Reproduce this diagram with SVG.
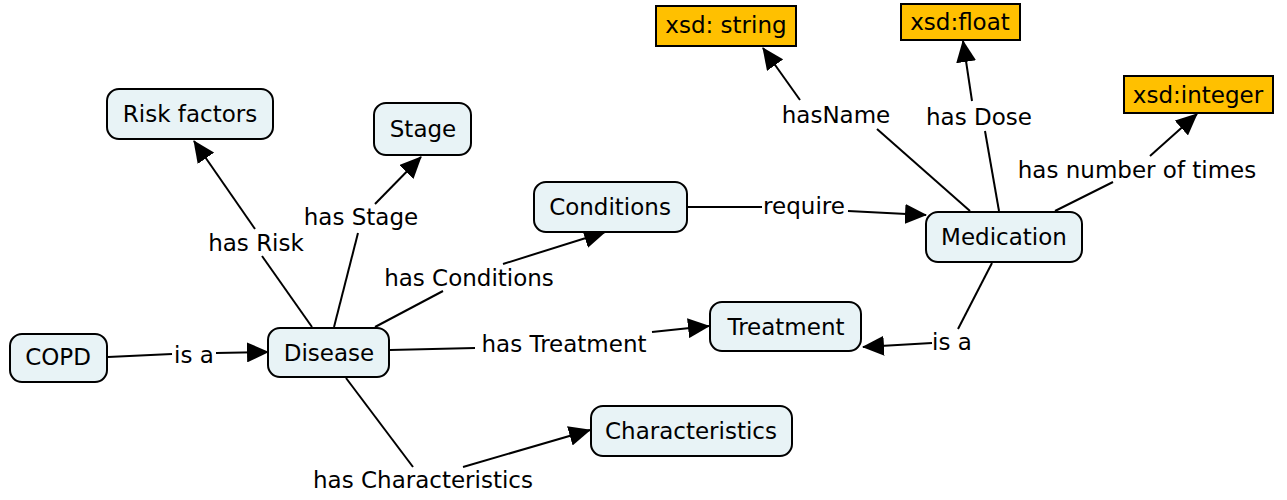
<svg xmlns="http://www.w3.org/2000/svg" width="1287" height="500" viewBox="0 0 1287 500">
<style>
.node rect{fill:#e8f3f6;stroke:#000;stroke-width:2}
.dt rect{fill:#ffc000;stroke:#000;stroke-width:2}
text{font-family:"DejaVu Sans","Liberation Sans",sans-serif;font-size:23px;fill:#000;text-anchor:middle;dominant-baseline:central}
.links line{stroke:#000;stroke-width:2}
.links line.a{marker-end:url(#arr)}
</style>
<defs>
<marker id="arr" markerUnits="userSpaceOnUse" markerWidth="22" markerHeight="20" viewBox="0 0 22 20" refX="21" refY="10" orient="auto">
<path d="M0,0 L22,10 L0,20 z" fill="#000"/>
</marker>
</defs>
<rect width="1287" height="500" fill="#fff"/>
<g class="links">
<line x1="108" y1="357" x2="172" y2="354"/><line class="a" x1="216" y1="353" x2="268" y2="352"/>
<line x1="312" y1="327" x2="262" y2="256"/><line class="a" x1="255" y1="229" x2="194" y2="141"/>
<line x1="334" y1="327" x2="358" y2="233"/><line class="a" x1="375" y1="204" x2="421" y2="157"/>
<line x1="375" y1="327" x2="443" y2="291"/><line class="a" x1="503" y1="264" x2="605" y2="232"/>
<line x1="390" y1="350" x2="475" y2="348"/><line class="a" x1="652" y1="332" x2="709" y2="326"/>
<line x1="346" y1="378" x2="413" y2="467"/><line class="a" x1="463" y1="467" x2="590" y2="430"/>
<line x1="687" y1="207" x2="762" y2="207"/><line class="a" x1="848" y1="211" x2="926" y2="215"/>
<line x1="992" y1="263" x2="958" y2="329"/><line class="a" x1="932" y1="343" x2="863" y2="347"/>
<line x1="970" y1="211" x2="877" y2="129"/><line class="a" x1="800" y1="100" x2="763" y2="48"/>
<line x1="999" y1="211" x2="985" y2="131"/><line class="a" x1="972" y1="101" x2="963" y2="41"/>
<line x1="1055" y1="211" x2="1113" y2="182"/><line class="a" x1="1150" y1="156" x2="1197" y2="114"/>
<text x="194" y="355">is a</text>
<text x="256" y="243">has Risk</text>
<text x="361" y="217">has Stage</text>
<text x="469" y="278">has Conditions</text>
<text x="564" y="344">has Treatment</text>
<text x="423" y="480">has Characteristics</text>
<text x="804" y="206">require</text>
<text x="952" y="342">is a</text>
<text x="836" y="115">hasName</text>
<text x="979" y="117">has Dose</text>
<text x="1137" y="170">has number of times</text>
</g>
<g id="risk" class="node"><rect x="107" y="89" width="166" height="50" rx="12"/><text x="190" y="114">Risk factors</text></g>
<g id="stage" class="node"><rect x="374" y="103" width="97" height="52" rx="12"/><text x="423" y="129">Stage</text></g>
<g id="conditions" class="node"><rect x="534" y="182" width="153" height="50" rx="12"/><text x="610" y="207">Conditions</text></g>
<g id="medication" class="node"><rect x="926" y="212" width="156" height="50" rx="12"/><text x="1004" y="237">Medication</text></g>
<g id="treatment" class="node"><rect x="710" y="302" width="151" height="49" rx="12"/><text x="786" y="327">Treatment</text></g>
<g id="copd" class="node"><rect x="10" y="334" width="97" height="48" rx="12"/><text x="58" y="357">COPD</text></g>
<g id="disease" class="node"><rect x="268" y="328" width="121" height="49" rx="12"/><text x="329" y="353">Disease</text></g>
<g id="characteristics" class="node"><rect x="591" y="406" width="201" height="50" rx="12"/><text x="691" y="431">Characteristics</text></g>
<g id="xsd-string" class="dt"><rect x="656" y="6" width="140" height="40"/><text x="726" y="25">xsd: string</text></g>
<g id="xsd-float" class="dt"><rect x="901" y="4" width="119" height="36"/><text x="960" y="22">xsd:float</text></g>
<g id="xsd-integer" class="dt"><rect x="1124" y="76" width="149" height="37"/><text x="1198" y="95">xsd:integer</text></g>
</svg>
